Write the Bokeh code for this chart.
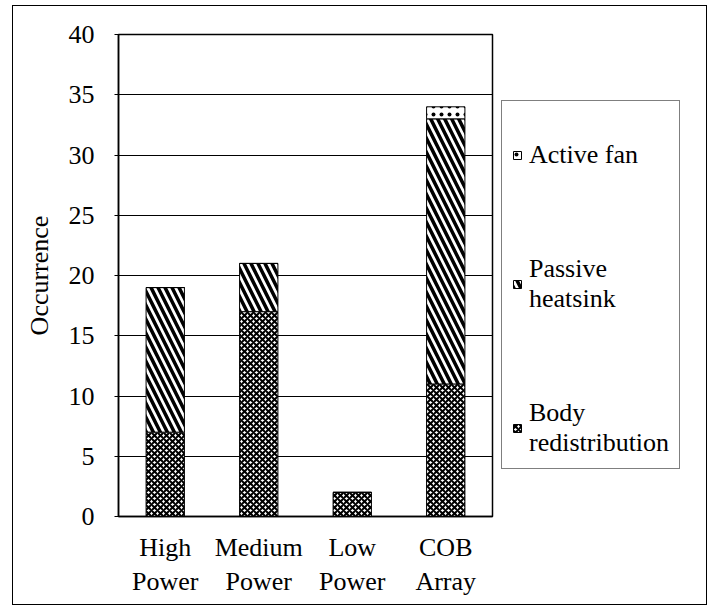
from bokeh.plotting import figure
from bokeh.models import Legend, LegendItem, FixedTicker
from bokeh.layouts import row
from bokeh.embed import file_html
from bokeh.resources import INLINE

# ---- data ----
categories = ["High\nPower", "Medium\nPower", "Low\nPower", "COB\nArray"]
body_redistribution = [7, 17, 2, 11]
passive_heatsink = [12, 4, 0, 22]
active_fan = [0, 0, 0, 1]
series_keys = ["body", "passive", "active"]
series_names = ["Body\nredistribution", "Passive\nheatsink", "Active fan"]
y_tick_values = [0, 5, 10, 15, 20, 25, 30, 35, 40]

FONT = "Liberation Serif"
FS = "26px"

source = dict(cat=categories, body=body_redistribution,
              passive=passive_heatsink, active=active_fan)

bar_style = dict(fill_color="white", line_color="black", line_width=1,
                 hatch_color="black",
                 hatch_pattern=["diagonal_cross", "left_diagonal_line", "dot"],
                 hatch_scale=[6, 14, 8],
                 hatch_weight=[2, 3.5, 2.5])

# ---- main chart ----
p = figure(x_range=categories, y_range=(0, 40), width=481, height=598,
           output_backend="svg", toolbar_location=None,
           min_border_left=105, min_border_top=28, min_border_bottom=88,
           min_border_right=2)
p.background_fill_color = "white"
p.border_fill_color = "white"
p.outline_line_color = "black"
p.outline_line_width = 1.5

rs = p.vbar_stack(series_keys, x="cat", width=0.41, source=source, **bar_style)

p.xgrid.grid_line_color = None
p.ygrid.grid_line_color = "black"
p.ygrid.grid_line_width = 1

p.yaxis.ticker = FixedTicker(ticks=y_tick_values)
p.yaxis.axis_label = "Occurrence"
p.yaxis.axis_label_text_font = FONT
p.yaxis.axis_label_text_font_size = FS
p.yaxis.axis_label_text_font_style = "normal"
p.yaxis.axis_label_standoff = 12
p.yaxis.minor_tick_line_color = None
p.yaxis.major_tick_in = 0
p.yaxis.major_tick_out = 4
p.yaxis.major_label_standoff = 20

p.xaxis.major_tick_line_color = None
p.xaxis.major_label_standoff = 10

for ax in (p.xaxis[0], p.yaxis[0]):
    ax.axis_line_color = "black"
    ax.axis_line_width = 1.5
    ax.major_label_text_font = FONT
    ax.major_label_text_font_size = FS
    ax.major_label_text_color = "black"
    ax.axis_label_text_color = "black"

# ---- legend panel (same series, hidden, used only for the key) ----
p2 = figure(x_range=categories, y_range=(0, 40), width=212, height=598,
            output_backend="svg", toolbar_location=None,
            x_axis_location=None, y_axis_location=None,
            min_border=0)
p2.outline_line_color = None
p2.background_fill_color = "white"
p2.border_fill_color = "white"
p2.xgrid.grid_line_color = None
p2.ygrid.grid_line_color = None
rs2 = p2.vbar_stack(series_keys, x="cat", width=0.41, source=source, **bar_style)
for r in rs2:
    r.visible = False

legend = Legend(items=[
    LegendItem(label=series_names[2], renderers=[rs2[2]]),
    LegendItem(label=series_names[1], renderers=[rs2[1]]),
    LegendItem(label=series_names[0], renderers=[rs2[0]]),
], location=(7, 47))
legend.title = " "
legend.title_text_font_size = "20px"
legend.title_standoff = 6
legend.border_line_color = "black"
legend.border_line_width = 1.5
legend.label_text_font = FONT
legend.label_text_font_size = FS
legend.label_text_color = "black"
legend.glyph_width = 10
legend.glyph_height = 10
legend.label_standoff = 7
legend.spacing = 84
legend.padding = 10
legend.margin = 0
legend.inactive_fill_alpha = 0
p2.add_layout(legend)

layout = row(p, p2, spacing=0)
layout.margin = (5, 0, 0, 12)
layout.styles = {"border": "1.5px solid black"}

open("out.html", "w").write(file_html(layout, INLINE))
